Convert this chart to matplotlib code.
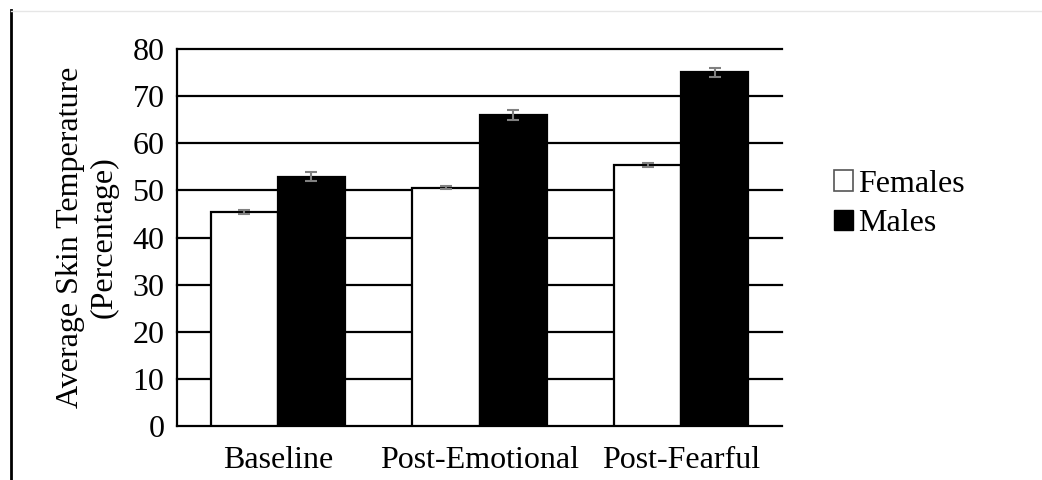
import numpy as np
import matplotlib
matplotlib.use("Agg")
import matplotlib.pyplot as plt
from matplotlib.lines import Line2D
from matplotlib.patches import Patch

plt.rcParams['font.family'] = ['Liberation Serif', 'DejaVu Serif']

conditions = ["Baseline", "Post-Emotional", "Post-Fearful"]
females = [45.4, 50.6, 55.4]
males = [52.9, 66.0, 75.0]
females_err = [0.4, 0.4, 0.4]
males_err = [1.0, 1.1, 1.0]
yticks = [0, 10, 20, 30, 40, 50, 60, 70, 80]

FS = 23

fig = plt.figure(figsize=(10.42, 4.8), dpi=100)
ax = fig.add_axes([0.1699, 0.1115, 0.5806, 0.787])

x = np.arange(len(conditions))
w = 1 / 3
err_style = dict(ecolor="#808080", elinewidth=1.5, capsize=4.5, capthick=1.5)
ax.bar(x - w / 2, females, w, yerr=females_err, color="white",
       edgecolor="black", linewidth=1.6, label="Females", zorder=3,
       error_kw=err_style)
ax.bar(x + w / 2, males, w, yerr=males_err, color="black",
       edgecolor="black", linewidth=1.6, label="Males", zorder=3,
       error_kw=err_style)

# horizontal rules at every tick, behind the bars
for t in yticks[1:]:
    ax.axhline(t, color="black", linewidth=1.6, zorder=1, clip_on=False)

ax.set_xlim(-0.5, 2.5)
ax.set_ylim(0, 80)
ax.set_yticks(yticks)
ax.set_xticks(x)
ax.set_xticklabels(conditions)
ax.tick_params(axis="both", length=0, labelsize=FS)
ax.tick_params(axis="x", pad=14)
ax.tick_params(axis="y", pad=9)
for side in ["top", "right"]:
    ax.spines[side].set_visible(False)
for side in ["left", "bottom"]:
    ax.spines[side].set_linewidth(1.6)
ax.set_ylabel("Average Skin Temperature\n(Percentage)", fontsize=FS,
              linespacing=1.2, labelpad=10)

handles = [Patch(facecolor="white", edgecolor="#555555", linewidth=1.2),
           Patch(facecolor="black", edgecolor="black")]
fig.legend(handles, ["Females", "Males"], loc="center left",
           bbox_to_anchor=(0.785, 0.575), frameon=False, fontsize=FS,
           handlelength=0.6, handleheight=0.6, handletextpad=0.15,
           labelspacing=0.32, borderpad=0)

# page border lines
fig.add_artist(Line2D([11 / 1042, 11 / 1042], [0, 1 - 10 / 480],
                      color="black", linewidth=2))
fig.add_artist(Line2D([11 / 1042, 1], [1 - 11 / 480, 1 - 11 / 480],
                      color="#e6e6e6", linewidth=1))

fig.savefig("out.png", dpi=100)
